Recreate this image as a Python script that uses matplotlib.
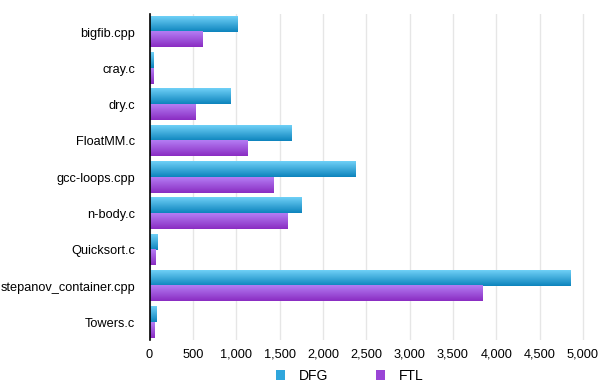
import numpy as np
import matplotlib
matplotlib.use("Agg")
import matplotlib.pyplot as plt
from matplotlib.patches import Patch
from matplotlib.colors import LinearSegmentedColormap

# benchmark data
benchmarks = ["bigfib.cpp", "cray.c", "dry.c", "FloatMM.c", "gcc-loops.cpp",
              "n-body.c", "Quicksort.c", "stepanov_container.cpp", "Towers.c"]
dfg = [1010, 45, 925, 1635, 2375, 1750, 90, 4855, 70]
ftl = [600, 45, 530, 1125, 1420, 1590, 65, 3840, 55]
xticks = [0, 500, 1000, 1500, 2000, 2500, 3000, 3500, 4000, 4500, 5000]

plt.rcParams["font.family"] = ["Liberation Sans", "DejaVu Sans"]

dfg_cmap = LinearSegmentedColormap.from_list("dfg", ["#6fd0f7", "#0d84bd"])
ftl_cmap = LinearSegmentedColormap.from_list("ftl", ["#b47df4", "#8a2dc2"])

fig = plt.figure(figsize=(5.99, 3.85), dpi=100)
ax = fig.add_axes([0.2496, 0.1156, 0.7454, 0.848])

bar_h = 0.415
gap = 0.015
grad = np.linspace(0, 1, 64).reshape(-1, 1)

for i in range(len(benchmarks)):
    # DFG bar above FTL bar, y axis is inverted
    y0 = i - bar_h - gap / 2
    ax.imshow(grad, cmap=dfg_cmap, aspect="auto", origin="upper",
              extent=(0, dfg[i], y0 + bar_h, y0), zorder=2)
    y1 = i + gap / 2
    ax.imshow(grad, cmap=ftl_cmap, aspect="auto", origin="upper",
              extent=(0, ftl[i], y1 + bar_h, y1), zorder=2)

ax.set_xlim(0, 5150)
ax.set_ylim(len(benchmarks) - 0.5, -0.5)
ax.set_yticks(range(len(benchmarks)))
ax.set_yticklabels(benchmarks, fontsize=9.2)
ax.set_xticks(xticks)
ax.set_xticklabels([f"{v:,}" for v in xticks], fontsize=9.2)
ax.tick_params(axis="x", length=0, pad=6)
ax.tick_params(axis="y", length=0, pad=10.5)

ax.grid(axis="x", color="#e6e6e6", linewidth=1, zorder=0)
ax.set_axisbelow(True)
for s in ["top", "right", "bottom"]:
    ax.spines[s].set_visible(False)
ax.spines["left"].set_color("black")
ax.spines["left"].set_linewidth(1.2)
ax.spines["left"].set_zorder(3)

handles = [Patch(facecolor="#2fa6dc", label="DFG"),
           Patch(facecolor="#9a45d6", label="FTL")]
fig.legend(handles=handles, loc="center", bbox_to_anchor=(0.584, 0.023),
           ncol=2, frameon=False, fontsize=10, handlelength=0.7, handleheight=0.7,
           columnspacing=3.4, handletextpad=1.0)

fig.savefig("out.png", dpi=100)
